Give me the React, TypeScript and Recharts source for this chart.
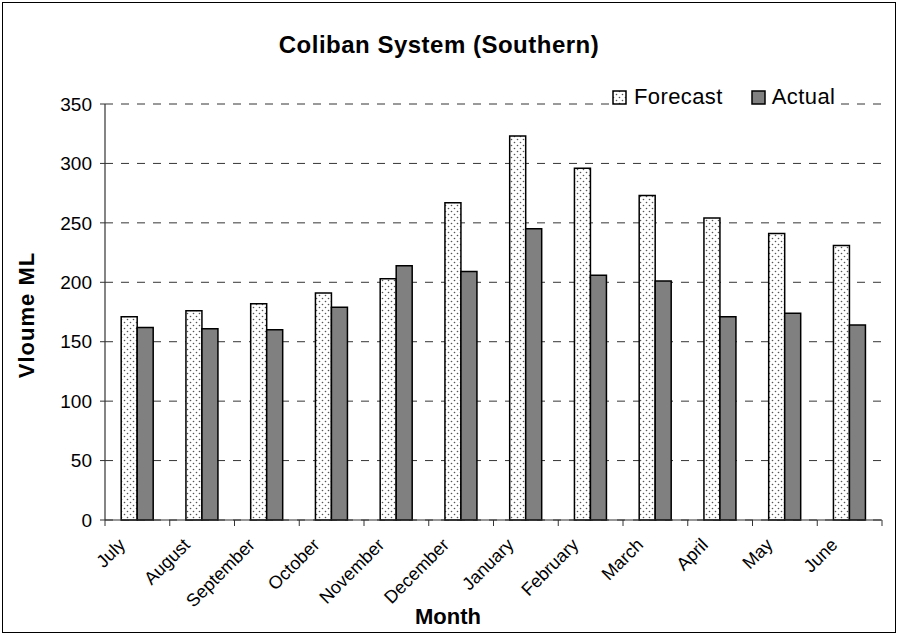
import React from 'react';
import {
  BarChart,
  Bar,
  XAxis,
  YAxis,
  CartesianGrid,
} from 'recharts';

const months = [
  'July', 'August', 'September', 'October', 'November', 'December',
  'January', 'February', 'March', 'April', 'May', 'June',
];
const forecast = [171, 176, 182, 191, 203, 267, 323, 296, 273, 254, 241, 231];
const actual = [162, 161, 160, 179, 214, 209, 245, 206, 201, 171, 174, 164];
const yTicks = [0, 50, 100, 150, 200, 250, 300, 350];

const data = months.map((month, i) => ({
  month,
  forecast: forecast[i],
  actual: actual[i],
}));

const font = 'Arial, "Liberation Sans", sans-serif';

const MonthTick = (props: any) => {
  const { x, y, payload, index } = props;
  const half = payload.offset || 0;
  const tx = x - 11;
  const ty = y + 18;
  return (
    <g>
      <line x1={x - half} y1={y - 8} x2={x - half} y2={y - 2} stroke="#333" />
      {index === months.length - 1 && (
        <line x1={x + half} y1={y - 8} x2={x + half} y2={y - 2} stroke="#333" />
      )}
      <text
        x={tx}
        y={ty}
        textAnchor="end"
        transform={`rotate(-45, ${tx}, ${ty})`}
        fontFamily={font}
        fontSize={18}
        fill="#000"
      >
        {payload.value}
      </text>
    </g>
  );
};

export default function App() {
  return (
    <div style={{ position: 'absolute', left: 0, top: 0, width: 901, height: 637, background: '#fff' }}>
      <div
        style={{
          position: 'absolute', left: 2, top: 2, width: 894, height: 631,
          border: '1px solid #000', boxSizing: 'border-box',
        }}
      />
      <div style={{ position: 'absolute', left: 0, top: 0 }}>
        <BarChart
          width={901}
          height={637}
          data={data}
          margin={{ top: 104, right: 19, left: 45, bottom: 57 }}
          barCategoryGap="25%"
          barGap={0}
        >
          <defs>
            <pattern id="dots" width={6} height={6} patternUnits="userSpaceOnUse">
              <rect width={6} height={6} fill="#fff" />
              <circle cx={1.5} cy={1.5} r={0.8} fill="#555" />
              <circle cx={4.5} cy={4.5} r={0.8} fill="#555" />
            </pattern>
          </defs>
          <CartesianGrid
            vertical={false}
            horizontal
            stroke="#000"
            strokeDasharray="8 8"
            strokeWidth={0.8}
          />
          <XAxis
            dataKey="month"
            height={60}
            interval={0}
            tickLine={false}
            axisLine={{ stroke: '#333', strokeWidth: 1.2 }}
            tick={<MonthTick />}
          />
          <YAxis
            width={60}
            domain={[0, 350]}
            ticks={yTicks}
            interval={0}
            tickSize={5}
            tickMargin={8}
            tickLine={{ stroke: '#333' }}
            axisLine={{ stroke: '#333', strokeWidth: 1.2 }}
            tick={{ fill: '#000', fontFamily: font, fontSize: 19 }}
          />
          <Bar
            dataKey="forecast"
            name="Forecast"
            fill="url(#dots)"
            stroke="#000"
            strokeWidth={1.5}
            isAnimationActive={false}
          />
          <Bar
            dataKey="actual"
            name="Actual"
            fill="#808080"
            stroke="#000"
            strokeWidth={1.5}
            isAnimationActive={false}
          />
        </BarChart>
      </div>
      <div
        style={{
          position: 'absolute', left: 0, width: 878, top: 31, textAlign: 'center',
          fontFamily: font, fontWeight: 'bold', fontSize: 24, letterSpacing: 0.5,
        }}
      >
        Coliban System (Southern)
      </div>
      <div
        style={{
          position: 'absolute', left: 27, top: 315, transform: 'translate(-50%, -50%) rotate(-90deg)',
          whiteSpace: 'nowrap', fontFamily: font, fontWeight: 'bold', fontSize: 22, letterSpacing: 1,
        }}
      >
        Vloume ML
      </div>
      <div
        style={{
          position: 'absolute', left: 448, top: 617, transform: 'translate(-50%, -50%)',
          fontFamily: font, fontWeight: 'bold', fontSize: 22,
        }}
      >
        Month
      </div>
      <div
        style={{
          position: 'absolute', left: 612, top: 83, height: 28, display: 'flex', alignItems: 'center',
          fontFamily: font, fontSize: 22, letterSpacing: 0.4, background: '#fff',
        }}
      >
        <svg width={15} height={15} style={{ marginRight: 7 }}>
          <rect x={1} y={1} width={13} height={13} fill="url(#dots)" stroke="#000" strokeWidth={1.5} />
        </svg>
        <span style={{ marginRight: 28 }}>Forecast</span>
        <svg width={15} height={15} style={{ marginRight: 6 }}>
          <rect x={1} y={1} width={13} height={13} fill="#808080" stroke="#000" strokeWidth={1.5} />
        </svg>
        <span>Actual</span>
      </div>
    </div>
  );
}
